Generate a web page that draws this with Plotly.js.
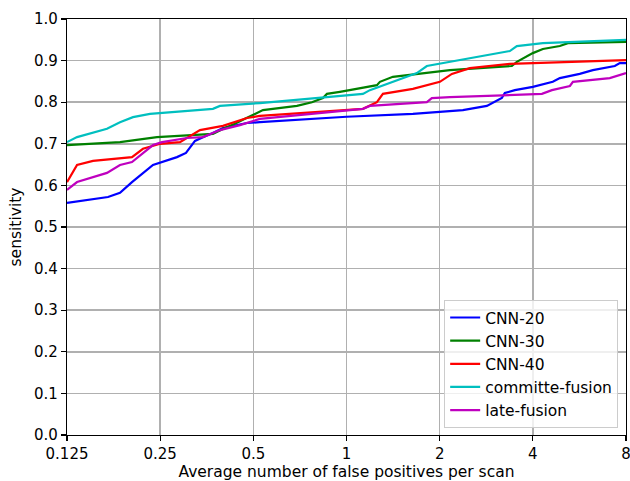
<!DOCTYPE html>
<html>
<head>
<meta charset="utf-8">
<script src="https://cdn.plot.ly/plotly-3.0.1.min.js"></script>
<style>html,body{margin:0;padding:0;background:#fff;}#chart{width:630px;height:481px;}</style>
</head>
<body>
<div id="chart"></div>
<script>
// Data
const seriesNames = ["CNN-20", "CNN-30", "CNN-40", "committe-fusion", "late-fusion"];
const seriesColors = ["#0000ff", "#008000", "#ff0000", "#00bfbf", "#bf00bf"];

const cnn20X = [0.125, 0.1696, 0.1854, 0.2027, 0.2370, 0.2534, 0.2833, 0.3029, 0.3239, 0.3437, 0.3702, 0.3988, 0.4426, 0.4768, 0.5251, 1.0, 1.639, 2.158, 2.377, 2.841, 3.176, 3.248, 3.499, 4.0, 4.64, 4.89, 5.67, 6.25, 7.36, 7.64, 8];
const cnn20Y = [0.558, 0.572, 0.582, 0.608, 0.649, 0.656, 0.668, 0.678, 0.707, 0.716, 0.726, 0.738, 0.745, 0.750, 0.752, 0.765, 0.772, 0.779, 0.781, 0.791, 0.810, 0.822, 0.829, 0.837, 0.849, 0.858, 0.868, 0.877, 0.887, 0.894, 0.894];

const cnn30X = [0.125, 0.1854, 0.2441, 0.3702, 0.4048, 0.436, 0.4697, 0.5174, 0.537, 0.6915, 0.7731, 0.8391, 0.8645, 0.952, 1.254, 1.282, 1.412, 2.158, 3.421, 3.551, 4.0, 4.31, 4.89, 5.19, 8];
const cnn30Y = [0.697, 0.704, 0.716, 0.724, 0.738, 0.748, 0.760, 0.774, 0.781, 0.791, 0.800, 0.810, 0.820, 0.825, 0.841, 0.849, 0.861, 0.877, 0.887, 0.897, 0.918, 0.928, 0.935, 0.942, 0.945];

const cnn40X = [0.125, 0.1347, 0.1517, 0.2027, 0.2200, 0.25, 0.2897, 0.3362, 0.3988, 0.4768, 0.5251, 1.130, 1.254, 1.311, 1.639, 2.003, 2.190, 2.504, 3.371, 8];
const cnn40Y = [0.608, 0.649, 0.659, 0.668, 0.688, 0.700, 0.704, 0.733, 0.743, 0.762, 0.767, 0.784, 0.800, 0.820, 0.832, 0.849, 0.868, 0.882, 0.892, 0.901];

const committeX = [0.125, 0.1347, 0.1683, 0.1854, 0.2042, 0.2317, 0.3702, 0.3900, 0.5251, 1.130, 1.190, 1.688, 1.818, 2.158, 3.371, 3.551, 4.31, 8];
const committeY = [0.704, 0.716, 0.736, 0.752, 0.764, 0.772, 0.784, 0.791, 0.798, 0.820, 0.829, 0.870, 0.887, 0.897, 0.923, 0.935, 0.942, 0.950];

const lateX = [0.125, 0.1347, 0.1683, 0.1854, 0.2027, 0.2370, 0.2534, 0.3052, 0.3437, 0.3900, 0.4526, 0.5251, 1.130, 1.190, 1.818, 1.887, 2.158, 4.28, 4.61, 5.27, 5.39, 7.09, 8];
const lateY = [0.589, 0.608, 0.630, 0.649, 0.656, 0.697, 0.704, 0.714, 0.716, 0.733, 0.745, 0.760, 0.784, 0.791, 0.800, 0.810, 0.812, 0.820, 0.829, 0.839, 0.849, 0.858, 0.870];

const xTickVals = [0.125, 0.25, 0.5, 1, 2, 4, 8];
const xTickText = ["0.125", "0.25", "0.5", "1", "2", "4", "8"];
const yTickVals = [0, 0.1, 0.2, 0.3, 0.4, 0.5, 0.6, 0.7, 0.8, 0.9, 1.0];
const yTickText = ["0.0", "0.1", "0.2", "0.3", "0.4", "0.5", "0.6", "0.7", "0.8", "0.9", "1.0"];

const xs = [cnn20X, cnn30X, cnn40X, committeX, lateX];
const ys = [cnn20Y, cnn30Y, cnn40Y, committeY, lateY];

const traces = seriesNames.map((name, i) => ({
  x: xs[i], y: ys[i], name: name, type: "scatter", mode: "lines",
  line: {color: seriesColors[i], width: 2.2}, legendgroup: "g" + i
}));

const font = {family: "DejaVu Sans, sans-serif", size: 15, color: "#000"};
const titleFont = {family: "DejaVu Sans, sans-serif", size: 15.5, color: "#000"};

const axisCommon = {
  showline: true, linecolor: "#000", linewidth: 1.2, mirror: true,
  ticks: "outside", ticklen: 5, tickwidth: 1.2, tickcolor: "#000",
  showgrid: true, gridcolor: "#b0b0b0", gridwidth: 1.6,
  zeroline: false, tickfont: font, ticklabeloverflow: "allow"
};

const layout = {
  width: 630, height: 481,
  margin: {l: 67, r: 4, t: 19, b: 46},
  paper_bgcolor: "#fff", plot_bgcolor: "#fff",
  font: font,
  showlegend: true,
  xaxis: Object.assign({}, axisCommon, {
    type: "log", range: [Math.log10(0.125), Math.log10(8)],
    tickmode: "array", tickvals: xTickVals, ticktext: xTickText,
    title: {text: "Average number of false positives per scan", font: titleFont, standoff: 12}
  }),
  yaxis: Object.assign({}, axisCommon, {
    range: [0, 1.0], tickmode: "array", tickvals: yTickVals, ticktext: yTickText,
    title: {text: "sensitivity", font: titleFont, standoff: 8}
  }),
  legend: {
    x: 0.986, y: 0.017, xanchor: "right", yanchor: "bottom",
    bgcolor: "rgba(255,255,255,0.8)", bordercolor: "#cccccc", borderwidth: 1,
    font: {family: "DejaVu Sans, sans-serif", size: 15.5, color: "#000"}, tracegroupgap: 0
  }
};

Plotly.newPlot("chart", traces, layout, {displayModeBar: false, staticPlot: true});
</script>
</body>
</html>
